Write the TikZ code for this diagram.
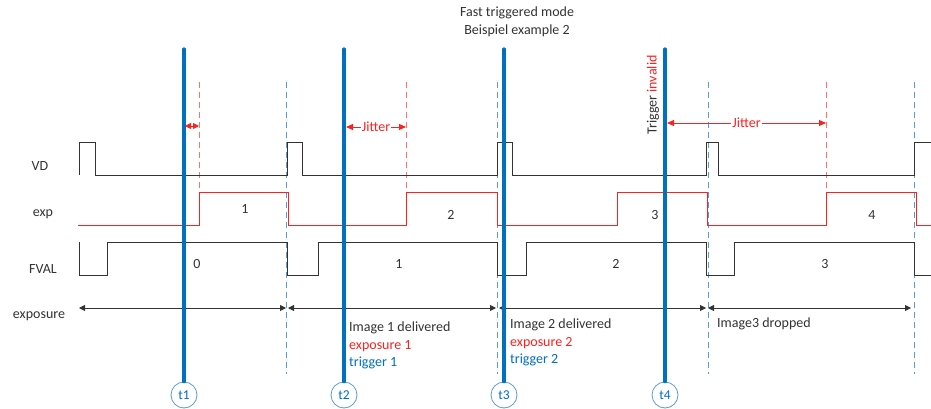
\documentclass[tikz,border=0pt]{standalone}
\usepackage{fontspec}
\setmainfont{Carlito}
\usetikzlibrary{arrows.meta}
\definecolor{tblue}{HTML}{0070C0}
\definecolor{lblue}{HTML}{5B9BD5}
\definecolor{tred}{HTML}{FF2020}
\definecolor{lred}{HTML}{FF7070}
\definecolor{sig}{HTML}{333333}
\tikzset{
  trig/.style={draw=tblue, line width=3.2pt},
  tcirc/.style={circle, draw=lblue, line width=0.8pt, minimum size=26pt, inner sep=0pt, text=tblue, font=\fontsize{13.5}{13.5}\selectfont},
  bdash/.style={draw=lblue, line width=0.9pt, dash pattern=on 6pt off 4pt},
  rdash/.style={draw=lred, line width=0.9pt, dash pattern=on 6pt off 4pt},
  sigline/.style={draw=sig, line width=1pt},
  expline/.style={draw=tred, line width=1pt},
  lbl/.style={font=\fontsize{14}{17.5}\selectfont, text=sig, inner sep=0pt},
  dim/.style={draw=sig, line width=0.9pt, {Triangle[width=6pt,length=6pt]}-{Triangle[width=6pt,length=6pt]}},
  jit/.style={draw=tred, line width=0.9pt, {Triangle[width=6pt,length=7pt]}-{Triangle[width=6pt,length=7pt]}},
  jlbl/.style={fill=white, inner sep=1pt, text=tred, font=\fontsize{14}{14}\selectfont},
}
\begin{document}
\begin{tikzpicture}[x=1pt,y=-1pt]
\useasboundingbox[fill=white] (0,0) rectangle (931,409);
% title
\node[lbl, align=center] (title) at (517,22) {Fast triggered mode\\Beispiel example 2};
% row labels
\node[lbl] (lvd) at (40,166) {VD};
\node[lbl] (lexp) at (43,214) {exp};
\node[lbl] (lfval) at (43,269) {FVAL};
\node[lbl] (lexpo) at (39,316) {exposure};
% dashed lines
\foreach \x/\n in {286/b1,497/b2,708/b3,914/b4}{
  \coordinate (\n t) at (\x,82); \coordinate (\n b) at (\x,374);
  \draw[bdash] (\n t) -- (\n b);
}
\foreach \x/\n in {199/r1,406/r2,826/r3}{
  \coordinate (\n t) at (\x,82); \coordinate (\n b) at (\x,192);
  \draw[rdash] (\n t) -- (\n b);
}
% VD
\draw[sigline] (79,175) -- (79,142) -- (95,142) -- (95,175) -- (287,175) -- (287,142) -- (302,142) -- (302,175)
  -- (497,175) -- (497,142) -- (512,142) -- (512,175) -- (706,175) -- (706,142) -- (718,142) -- (718,175)
  -- (914,175) -- (914,142) -- (931,142);
% exp
\draw[expline] (78,225) -- (199,225) -- (199,192) -- (288,192) -- (288,225) -- (406,225) -- (406,192) -- (497,192) -- (497,225)
  -- (617,225) -- (617,192) -- (707,192) -- (707,225) -- (826,225) -- (826,192) -- (916,192) -- (916,225) -- (931,225);
\node[lbl] (e1) at (245,209) {1};
\node[lbl] (e2) at (451,215) {2};
\node[lbl] (e3) at (655,215) {3};
\node[lbl] (e4) at (872,215) {4};
% FVAL
\draw[sigline] (79,242) -- (79,275) -- (107,275) -- (107,242) -- (287,242) -- (287,275) -- (318,275) -- (318,242)
  -- (497,242) -- (497,275) -- (526,275) -- (526,242) -- (706,242) -- (706,275) -- (734,275) -- (734,242)
  -- (914,242) -- (914,275) -- (931,275);
\node[lbl] (f0) at (197,264) {0};
\node[lbl] (f1) at (399,264) {1};
\node[lbl] (f2) at (616,264) {2};
\node[lbl] (f3) at (825,264) {3};
% exposure arrows
\coordinate (x0) at (79,308); \coordinate (x1) at (286,308); \coordinate (x1b) at (288,308);
\coordinate (x2) at (496,308); \coordinate (x2b) at (499,308); \coordinate (x3) at (706,308);
\coordinate (x3b) at (708,308); \coordinate (x4) at (911,308);
\draw[dim] (x0) -- (x1);
\draw[dim] (x1b) -- (x2);
\draw[dim] (x2b) -- (x3);
\draw[dim] (x3b) -- (x4);
% trigger lines
\foreach \x/\n in {184/1,344/2,504/3,665/4}{
  \node[tcirc] (t\n) at (\x,395) {t\n};
  \coordinate (tt\n) at (\x,49);
  \draw[trig, line cap=round] (tt\n) -- (t\n.north);
}
% jitter
\coordinate (j1a) at (185,126); \coordinate (j1b) at (199,126);
\draw[tred, line width=0.9pt, {Triangle[width=6pt,length=6pt]}-{Triangle[width=6pt,length=6pt]}] (j1a) -- (j1b);
\coordinate (j2a) at (346,127); \coordinate (j2b) at (406,127);
\draw[jit] (j2a) -- node[jlbl] (jl2) {Jitter} (j2b);
\coordinate (j4a) at (667,123); \coordinate (j4b) at (826,123);
\draw[jit] (j4a) -- node[jlbl] (jl4) {Jitter} (j4b);
\node[lbl, rotate=90] (tinv) at (653,95) {Trigger \textcolor{tred}{invalid}};
% texts
\node[lbl, anchor=north west, align=left] (im1) at (349,322) {Image 1 delivered\\\textcolor{tred}{exposure 1}\\\textcolor{tblue}{trigger 1}};
\node[lbl, anchor=north west, align=left] (im2) at (510,319) {Image 2 delivered\\\textcolor{tred}{exposure 2}\\\textcolor{tblue}{trigger 2}};
\node[lbl, anchor=north west] (im3) at (717,318) {Image3 dropped};
\end{tikzpicture}
\end{document}
